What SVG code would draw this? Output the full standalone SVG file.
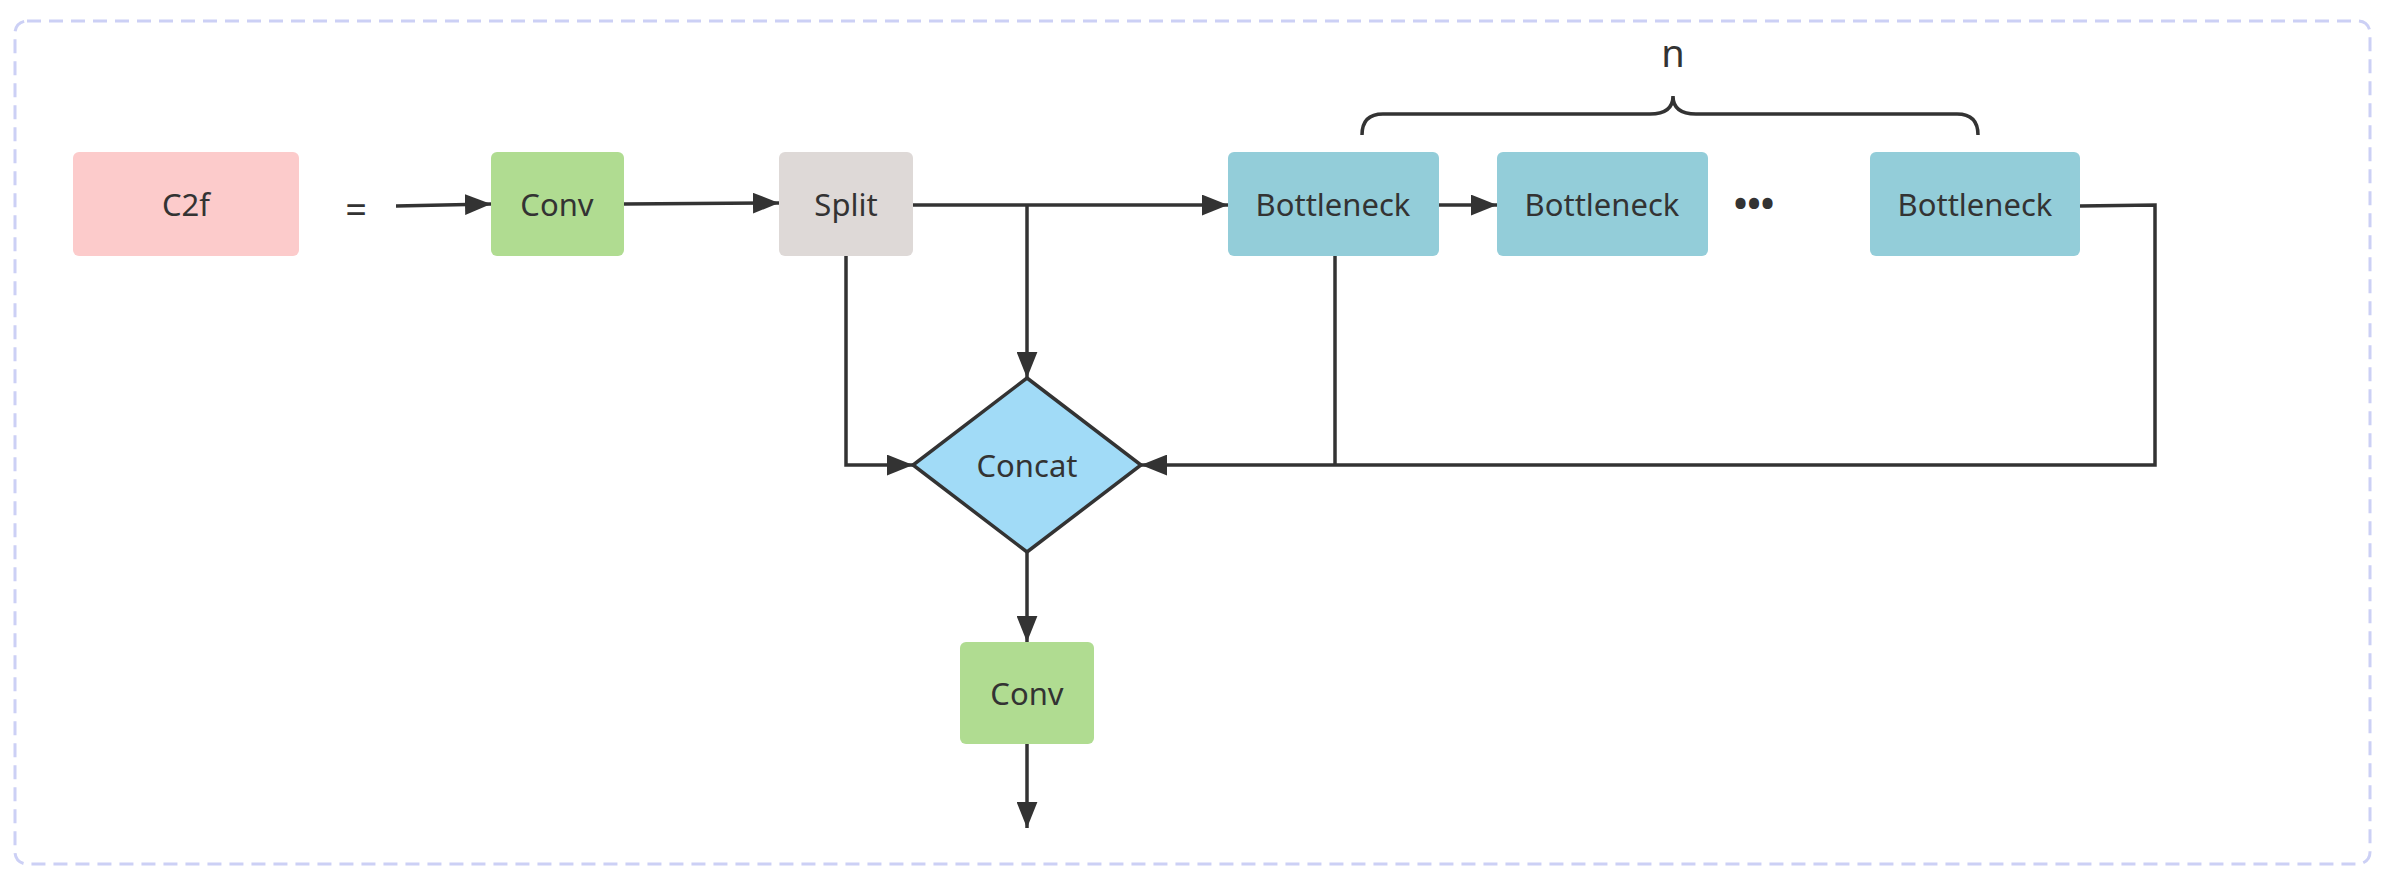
<svg xmlns="http://www.w3.org/2000/svg" width="2390" height="890" viewBox="0 0 2390 890">
<style>
text{font-family:"Noto Sans","Open Sans",sans-serif;font-size:31px;fill:#333;text-anchor:middle;dominant-baseline:central}
.e{stroke:#333;stroke-width:3.5;fill:none}
</style>
<defs><marker id="ah2" viewBox="0 0 10 8" refX="10" refY="4" markerWidth="26" markerHeight="21" orient="auto" markerUnits="userSpaceOnUse"><path d="M0,0L10,4L0,8z" fill="#333"/></marker></defs>
<rect x="15" y="21" width="2355" height="843" rx="12" fill="#fff" stroke="#ccd0f5" stroke-width="3" stroke-dasharray="14,8"/>
<g id="c2f"><rect x="73" y="152" width="226" height="104" rx="6" fill="#fccbcb"/><text x="186" y="204">C2f</text></g>
<text x="356" y="208" style="font-size:38px">=</text>
<g id="conv1"><rect x="491" y="152" width="133" height="104" rx="6" fill="#b0dc91"/><text x="557" y="204">Conv</text></g>
<g id="split"><rect x="779" y="152" width="134" height="104" rx="6" fill="#ded9d7"/><text x="846" y="204">Split</text></g>
<g id="b1"><rect x="1228" y="152" width="211" height="104" rx="6" fill="#93cdd9"/><text x="1333" y="204">Bottleneck</text></g>
<g id="b2"><rect x="1497" y="152" width="211" height="104" rx="6" fill="#93cdd9"/><text x="1602" y="204">Bottleneck</text></g>
<text x="1754" y="203" style="font-weight:bold;font-size:36px">•••</text>
<g id="b3"><rect x="1870" y="152" width="210" height="104" rx="6" fill="#93cdd9"/><text x="1975" y="204">Bottleneck</text></g>
<g id="concat"><path d="M1027,378L1141,465L1027,552L913,465z" fill="#a1dbf7" stroke="#333" stroke-width="3.5"/><text x="1027" y="465">Concat</text></g>
<g id="conv2"><rect x="960" y="642" width="134" height="102" rx="6" fill="#b0dc91"/><text x="1027" y="693">Conv</text></g>
<g id="brace"><path class="e" d="M1362,135Q1362,114 1383,114L1650,114Q1673,114 1673,96Q1673,114 1696,114L1957,114Q1978,114 1978,135" stroke-width="3"/><text x="1673" y="52" style="font-size:38px">n</text></g>
<g id="connectors">
<path class="e" marker-end="url(#ah2)" d="M396,206L491,204"/>
<path class="e" marker-end="url(#ah2)" d="M624,204L779,203"/>
<path class="e" marker-end="url(#ah2)" d="M913,205L1027,205L1228,205"/>
<path class="e" marker-end="url(#ah2)" d="M1027,205L1027,378"/>
<path class="e" marker-end="url(#ah2)" d="M846,256L846,465L913,465"/>
<path class="e" marker-end="url(#ah2)" d="M1439,205L1497,205"/>
<path class="e" d="M1335,256L1335,465"/>
<path class="e" marker-end="url(#ah2)" d="M2080,206L2155,205L2155,465L1141,465"/>
<path class="e" marker-end="url(#ah2)" d="M1027,552L1027,642"/>
<path class="e" marker-end="url(#ah2)" d="M1027,744L1027,828"/>
</g>
</svg>
